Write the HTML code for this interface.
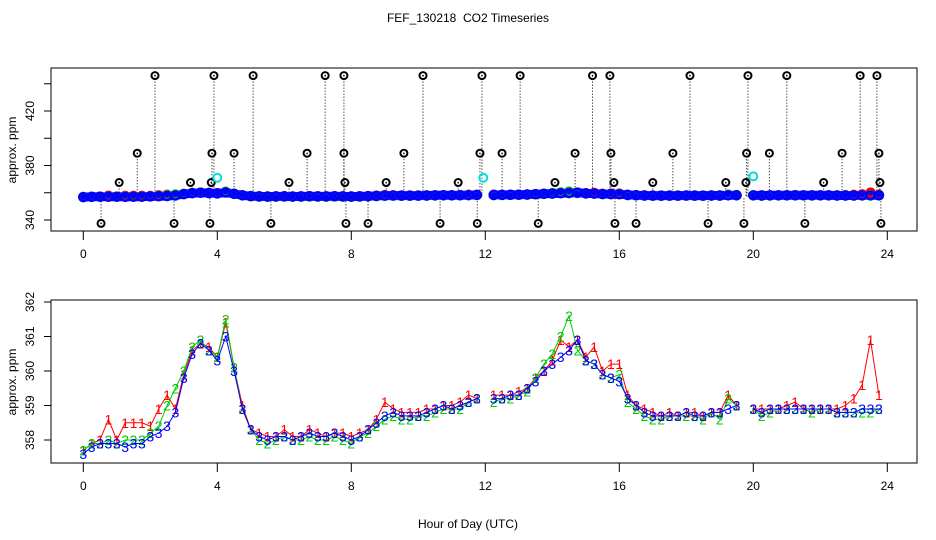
<!DOCTYPE html>
<html><head><meta charset="utf-8"><style>
html,body{margin:0;padding:0;background:#fff;}
svg{display:block;font-family:"Liberation Sans",sans-serif;}
</style></head><body>
<svg id="chart" width="936" height="540" viewBox="0 0 936 540">
<text x="468" y="22" text-anchor="middle" font-size="12">FEF_130218&#160; CO2 Timeseries</text>
<text x="468" y="528" text-anchor="middle" font-size="12">Hour of Day (UTC)</text>
<text transform="translate(16,150) rotate(-90)" text-anchor="middle" font-size="12">approx. ppm</text>
<text transform="translate(16,382) rotate(-90)" text-anchor="middle" font-size="12">approx. ppm</text>
<g id="topPanel"></g>
<g id="botPanel"></g>
</svg>
<script>
const xTicks=[0,4,8,12,16,20,24];
const topYTicks=[340,360,380,400,420,440];
const topYLabels=[340,380,420];
const botYTicks=[358,359,360,361,362];
const times=[];for(let i=0;i<96;i++)times.push(i*0.25);
const series3=[357.6,357.8,357.9,357.9,357.9,357.8,357.9,357.9,358.1,358.2,358.4,358.8,359.8,360.5,360.8,360.6,360.3,361.0,360.0,358.9,358.3,358.1,358.0,358.1,358.1,358.0,358.1,358.2,358.1,358.1,358.2,358.1,358.0,358.1,358.3,358.5,358.7,358.8,358.7,358.7,358.7,358.8,358.9,359.0,358.9,359.0,359.1,359.2,null,359.2,359.2,359.3,359.3,359.5,359.7,360.0,360.2,360.4,360.6,360.9,360.3,360.2,359.9,359.8,359.7,359.2,359.0,358.8,358.7,358.7,358.7,358.7,358.8,358.7,358.7,358.8,358.8,358.9,359.0,null,358.9,358.8,358.9,358.9,358.9,358.9,358.9,358.9,358.9,358.9,358.8,358.8,358.8,358.9,358.9,358.9];
const series1=[357.7,357.9,358.0,358.6,358.0,358.5,358.5,358.5,358.4,358.9,359.3,358.9,359.9,360.6,360.8,360.7,360.4,361.4,360.1,359.0,358.3,358.2,358.1,358.1,358.3,358.1,358.1,358.3,358.2,358.1,358.2,358.2,358.1,358.2,358.3,358.6,359.1,358.9,358.8,358.8,358.8,358.9,358.9,359.0,359.0,359.1,359.3,359.2,null,359.3,359.3,359.3,359.4,359.5,359.8,360.0,360.3,360.9,360.7,360.9,360.4,360.7,360.0,360.2,360.2,359.3,359.0,358.9,358.8,358.7,358.8,358.7,358.8,358.8,358.7,358.8,358.8,359.3,359.0,null,358.9,358.9,358.9,358.9,359.0,359.1,358.9,358.9,358.9,358.9,358.9,359.0,359.2,359.6,360.9,359.3];
const series2=[357.7,357.9,357.9,358.0,357.9,358.0,358.0,358.0,358.2,358.4,359.0,359.5,360.0,360.7,360.9,360.6,360.4,361.5,360.1,358.9,358.3,358.0,357.9,358.0,358.1,358.0,358.0,358.1,358.0,358.0,358.1,358.0,357.9,358.1,358.2,358.4,358.6,358.7,358.6,358.6,358.7,358.7,358.8,358.9,358.9,358.9,359.1,359.2,null,359.1,359.2,359.2,359.3,359.4,359.8,360.2,360.5,361.0,361.6,360.6,360.3,360.2,359.9,359.8,359.9,359.1,358.9,358.7,358.6,358.6,358.7,358.7,358.7,358.7,358.6,358.8,358.6,359.2,359.0,null,358.9,358.7,358.8,358.9,358.9,358.9,358.9,358.8,358.9,358.9,358.8,358.8,358.8,358.8,358.8,358.9];
const outlierHours=[2.14,3.90,5.07,7.22,7.78,10.14,11.9,13.04,15.2,15.72,18.11,19.84,21.0,23.19,23.69, 1.61,3.84,4.50,6.68,7.78,9.57,11.84,12.5,14.68,15.75,17.6,19.8,20.48,22.65,23.75, 1.07,3.2,3.82,6.14,7.81,9.04,11.19,14.08,15.84,17.0,19.18,19.78,22.1,23.78, 0.53,2.71,3.78,5.6,7.84,8.5,10.65,11.76,13.58,15.87,16.5,18.65,19.72,21.54,23.81];
const outlierValues=[446,446,446,446,446,446,446,446,446,446,446,446,446,446,446, 389,389,389,389,389,389,389,389,389,389,389,389,389,389,389, 367.5,367.5,367.5,367.5,367.5,367.5,367.5,367.5,367.5,367.5,367.5,367.5,367.5,367.5, 337.5,337.5,337.5,337.5,337.5,337.5,337.5,337.5,337.5,337.5,337.5,337.5,337.5,337.5,337.5];
const cyanHours=[4.0,11.94,20.0];
const cyanValues=[371,371,372];
const baseValue=357.3;

const NS="http://www.w3.org/2000/svg";
function mk(p,tag,a){const e=document.createElementNS(NS,tag);for(const k in a)e.setAttribute(k,a[k]);p.appendChild(e);return e;}
const X=h=>83.3+h*33.5;
const Yt=v=>220-(v-340)*1.3625;
const Yb=v=>440-(v-358)*34.5;
const topG=document.getElementById('topPanel'),botG=document.getElementById('botPanel');

function frame(g,y0,y1,name){
 const r=mk(g,'rect',{x:51,y:y0,width:866,height:y1-y0,fill:'none',stroke:'#000','stroke-width':1});
 
 
 xTicks.forEach(t=>{
  const l=mk(g,'line',{x1:X(t),x2:X(t),y1:y1,y2:y1+9,stroke:'#000'});
  
  
  const tx=mk(g,'text',{x:X(t),y:y1+27,'text-anchor':'middle','font-size':12});
  tx.textContent=t;
  
  
 });
}
frame(topG,68,231,'top');
frame(botG,300,463,'bottom');
topYTicks.forEach(v=>{
 const l=mk(topG,'line',{x1:44,x2:51,y1:Yt(v),y2:Yt(v),stroke:'#000'});
 
 
 if(topYLabels.includes(v)){
  const t=mk(topG,'text',{transform:`translate(34,${Yt(v)}) rotate(-90)`,'text-anchor':'middle','font-size':12});
  t.textContent=v;
  
  
 }
});
botYTicks.forEach(v=>{
 const l=mk(botG,'line',{x1:44,x2:51,y1:Yb(v),y2:Yb(v),stroke:'#000'});
 
 
 const t=mk(botG,'text',{transform:`translate(34,${Yb(v)}) rotate(-90)`,'text-anchor':'middle','font-size':12});
 t.textContent=v;
 
 
});

outlierHours.forEach((h,i)=>{
 const v=outlierValues[i];
 const l=mk(topG,'line',{x1:X(h),x2:X(h),y1:Yt(v),y2:Yt(baseValue),stroke:'#000','stroke-dasharray':'1 2'});
 
 
});
// thick band under top series
{
 let d='',pen=false;
 series3.forEach((v,i)=>{ if(v===null){pen=false;return;}
  d+=(pen?'L':'M')+X(times[i]).toFixed(1)+','+Yt(v-0.8).toFixed(1);pen=true;});
 const p=mk(topG,'path',{d:d,fill:'none',stroke:'#00f','stroke-width':9,'stroke-linecap':'round'});
 
 
}
[[series1,'#f00'],[series2,'#0c0'],[series3,'#00f']].forEach(([s,c])=>{
 s.forEach((v,i)=>{ if(v===null)return;
  const e=mk(topG,'circle',{cx:X(times[i]),cy:Yt(v-0.8),r:4,fill:'none',stroke:c,'stroke-width':2.5});
  
  
 });
});
outlierHours.forEach((h,i)=>{
 const v=outlierValues[i];
 const c=mk(topG,'circle',{cx:X(h),cy:Yt(v),r:3.5,fill:'none',stroke:'#000','stroke-width':2});
 
 
 const d=mk(topG,'circle',{cx:X(h),cy:Yt(v),r:0.8,fill:'#000'});
 
 
});
cyanHours.forEach((h,i)=>{
 const c=mk(topG,'circle',{cx:X(h),cy:Yt(cyanValues[i]),r:4,fill:'none',stroke:'#0dd','stroke-width':2});
 
 
});

[[series1,'#f00','1'],[series2,'#0c0','2'],[series3,'#00f','3']].forEach(([s,c,lab])=>{
 let d='',pen=false;
 s.forEach((v,i)=>{ if(v===null){pen=false;return;}
  d+=(pen?'L':'M')+X(times[i]).toFixed(1)+','+Yb(v).toFixed(1);pen=true;});
 const p=mk(botG,'path',{d:d,fill:'none',stroke:c,'stroke-width':1});
 
 
 s.forEach((v,i)=>{ if(v===null)return;
  const t=mk(botG,'text',{x:X(times[i]),y:Yb(v)+5,'text-anchor':'middle','font-size':14,fill:c});
  t.textContent=lab;
  
  
 });
});
</script>
</body></html>
